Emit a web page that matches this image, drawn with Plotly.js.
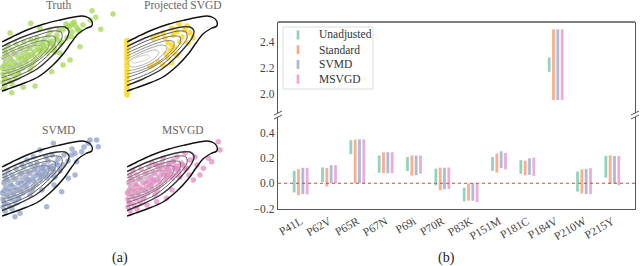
<!DOCTYPE html>
<html><head><meta charset="utf-8">
<script src="https://cdn.plot.ly/plotly-3.0.1.min.js"></script>
<style>html,body{margin:0;padding:0;background:#fff}#chart{width:640px;height:266px}</style>
</head><body><div id="chart"></div>
<script>
// ---------- (b) interval data ----------
const categories = ['P41L','P62V','P65R','P67N','P69i','P70R','P83K','P151M','P181C','P184V','P210W','P215Y'];
const seriesNames = ['Unadjusted','Standard','SVMD','MSVGD'];
const unadjLow  = [-0.072, 0.010, 0.230, 0.083, 0.097, -0.016, -0.142, 0.098, 0.075, 2.170, -0.065, 0.045];
const unadjHigh = [ 0.098, 0.125, 0.340, 0.220, 0.207,  0.115, -0.035, 0.207, 0.182, 2.280,  0.093, 0.216];
const stdLow    = [-0.094,-0.025, 0.000, 0.080, 0.060, -0.053, -0.137, 0.085, 0.063, 1.955, -0.080, -0.004];
const stdHigh   = [ 0.112, 0.120, 0.345, 0.244, 0.220,  0.124, -0.002, 0.234, 0.178, 2.495,  0.109, 0.220];
const svmdLow   = [-0.085, 0.000, 0.000, 0.079, 0.063, -0.047, -0.138, 0.120, 0.066, 1.955, -0.085, -0.004];
const svmdHigh  = [ 0.122, 0.143, 0.347, 0.245, 0.219,  0.123,  0.000, 0.252, 0.198, 2.495,  0.114, 0.215];
const msvgdLow  = [-0.088, 0.000, 0.000, 0.079, 0.076, -0.046, -0.148, 0.110, 0.058, 1.955, -0.085, -0.015];
const msvgdHigh = [ 0.122, 0.143, 0.347, 0.245, 0.219,  0.124,  0.000, 0.239, 0.202, 2.495,  0.119, 0.215];
const lowerTicks = [-0.2, 0.0, 0.2, 0.4];
const upperTicks = [2.0, 2.2, 2.4];

// ---------- (a) panel data (local panel units) ----------
const panelTitles = ['Truth','Projected SVGD','SVMD','MSVGD'];
const c1X = [0,10,25,42,58,72,80,86,89.7,89.7,84,76,69,62,50,36,20,6,0];
const c1Y = [68,73,80,86,90,93,94,92.5,89,84,81.5,76,67,57,44,33,26,21,19];
const c2X = [0,18,38,55,63,67,65,59,49,35,18,0];
const c2Y = [63.5,72,79,83,83,79,72,64,53,41,32,24.5];
const c3X = [0,18,36,51,59,60,53,42,28,13,0];
const c3Y = [60,68.5,75,79,78,72,62,51,40,33,28.5];
const c4X = [0,17,32,46,53,53,46,34,20,8,0];
const c4Y = [57,64.5,70.5,74,73,67,58,48,40,35,32.5];
const c5X = [0,15,29,41,47,46,39,28,16,5,0];
const c5Y = [54,61,66.5,69.5,68,62,54,46,40.5,37,36];
const c6X = [0,13,25,35,40,38,31,21,10,3,0];
const c6Y = [51,57.5,62.5,65,63,58,51,45,41,39.5,39.5];
const c7X = [2,11,21,29,32,29,21,12,5,1,2];
const c7Y = [49,54.5,58.5,60,57.5,53,47.5,44,43,46,49];
const c8X = [6,14,21,23,19,12,6,4,6];
const c8Y = [51,54,55,53,50,48,47,49,51];

const coreX = [1,1,2,2,3,3,4,5,5,6,7,8,8,9,10,11,12,12,13,14,15,16,17,18,19,20,21,22,23,24,25,26,27,28,29,30,31,32,33,34,35,36,38,39,40,42,43,45,46,48,50,52,54,3,10,
               0.5,4,6,9,11,14,16,18,20,22,24,26,28,30,32,34,37,40,41,44,47,49,51,53,56,58,2,6,13,19];
const coreY = [28,36,44,52,60,32,48,40,56,64,30,44,52,36,60,48,40,56,33,66,45,52,38,61,47,55,42,68,50,58,46,63,53,40,70,56,48,65,59,51,72,62,55,67,60,70,64,57,74,66,69,63,72,24,26,
               42,56,46,50,42,56,36,44,62,53,49,55,62,44,54,68,60,58,66,61,68,60,66,58,70,66,33,38,47,51];

const truthOutX = [28.7,90,93.7,98.7,111,88,81,78,73,68,78,68,61,49.7,33,21.3,9.7,1.3,8,58,69.7,61,48,38,55,60,65,52,57,70,75,64,66,72,76,70];
const truthOutY = [86.7,99.3,92.7,80.7,96,90,85,79.3,85,83.3,63.3,50,45,38.3,24,22.7,17.3,20.7,77,57,73.3,80,78.3,81.7,75,68,72,62,80,78,82,86,84,88,80,86];

const projLineX = [0,0,0,0,0,0,0,0,0,0,0,0,0,0,0,0,0,0,0,0];
const projLineY = [15,17.5,21,23,26.5,29,32,35.5,38,41,44,46.5,50,53,55.5,58,61.5,64,67,69.5];
const projClusterX = [26.3,36,44.7,49.7,58,63,66,61,53,41,43,46,41,44.7,36,31,26,23,46,48,50,39,45,55,38,30,60,52,94];
const projClusterY = [71.7,77,81.7,78.3,80,77,72,67,68.3,67,60,57,52,47,45,48.3,45,43.3,75,62,55,56,65,73,72,74,84,86,103];

const svmdOutX = [88,94.7,96.3,86.3,79.7,73,74.7,73,66.3,69.7,51.3,38,31.3,61.3,18,13,59.7,44.7,56,62,50,66,58,44,82,70,25,20,40,52];
const svmdOutY = [95,95,88.3,91.7,83.3,81.7,73.3,60,56.7,80,91.7,85,78.3,70,21.7,18.3,43.3,28.3,76,80,80,74,64,78,88,86,75,70,45,50];

const msvgdOutX = [91.3,93,81.3,84.7,73,66.3,58,63,46.3,59.7,39.7,29.7,36.3,76.3,50,55,42,30,25,62,20,45,70,68];
const msvgdOutY = [93.3,85,76.7,73.3,60,55,81.7,75,73.3,66.7,36.7,33.3,76.7,66.7,78,70,72,70,72,60,30,45,70,78];

// ---------- styling ----------
const W = 640, H = 266;
const px = v => v / W, py = v => 1 - v / H;
const serif = "'Liberation Serif', 'Times New Roman', serif";
const seriesColors = ['#66c2a5','#fc8d62','#8da0cb','#e78ac3'];
const spine = '#555';

const traces = [];
const intervals = [[unadjLow,unadjHigh],[stdLow,stdHigh],[svmdLow,svmdHigh],[msvgdLow,msvgdHigh]];
['y','y2'].forEach(ya => {
  intervals.forEach((iv, i) => {
    traces.push({
      type:'bar', x: categories, base: iv[0], y: iv[1].map((h,k) => h - iv[0][k]),
      xaxis:'x', yaxis: ya, name: seriesNames[i], showlegend:false, hoverinfo:'skip',
      marker:{color: seriesColors[i], opacity:0.72, line:{width:0}}
    });
  });
});

// (a) panels
const contoursX = [c1X,c2X,c3X,c4X,c5X,c6X,c7X,c8X];
const contoursY = [c1Y,c2Y,c3Y,c4Y,c5Y,c6Y,c7Y,c8Y];
const contourColors = ['#111','#333','#5e5e5e','#767676','#8c8c8c','#a2a2a2','#b8b8b8','#d0d0d0'];
const panelPoints = [
  [[coreX.concat(truthOutX), coreY.concat(truthOutY)]],
  [[projLineX, projLineY],[projClusterX, projClusterY]],
  [[coreX.concat(svmdOutX), coreY.concat(svmdOutY)]],
  [[coreX.concat(msvgdOutX), coreY.concat(msvgdOutY)]]
];
const pointColors = ['#a6d854','#ffd92f','#8da0cb','#e78ac3'];
const pointOpacity = [0.75, 0.92, 0.75, 0.75];
const boxes = [[2,8,114,110],[127,8,239,110],[2,133,114,235],[127,133,239,235]];
const layoutAxes = {};
const annotations = [];
boxes.forEach((b, p) => {
  const xa = 'x' + (p + 3), ya = 'y' + (p + 3);
  panelPoints[p].forEach(pp => {
    traces.push({type:'scatter', mode:'markers', x: pp[0], y: pp[1], xaxis: xa, yaxis: ya,
      showlegend:false, hoverinfo:'skip', cliponaxis:false,
      marker:{size:5.5, color: pointColors[p], opacity: pointOpacity[p], line:{width:0}}});
  });
  contoursX.forEach((cx, k) => {
    traces.push({type:'scatter', mode:'lines', x: cx, y: contoursY[k], xaxis: xa, yaxis: ya,
      showlegend:false, hoverinfo:'skip',
      line:{color: contourColors[k], width: k < 2 ? 1.4 : 1.0, shape:'spline', smoothing:0.9}});
  });
  layoutAxes['xaxis' + (p + 3)] = {domain:[px(b[0]), px(b[2])], range:[0,112], visible:false, anchor: ya};
  layoutAxes['yaxis' + (p + 3)] = {domain:[py(b[3]), py(b[1])], range:[0,102], visible:false, anchor: xa};
  annotations.push({text: panelTitles[p], xref:'paper', yref:'paper', x: px((b[0]+b[2])/2), y: py(b[1]-3),
    xanchor:'center', yanchor:'middle', showarrow:false, font:{family: serif, size:11.5, color:'#666'}});
});

// sub-figure labels
annotations.push({text:'(a)', xref:'paper', yref:'paper', x: px(120), y: py(258), showarrow:false,
  xanchor:'center', yanchor:'middle', font:{family: serif, size:14, color:'#222'}});
annotations.push({text:'(b)', xref:'paper', yref:'paper', x: px(446), y: py(258), showarrow:false,
  xanchor:'center', yanchor:'middle', font:{family: serif, size:14, color:'#222'}});

// manual legend
const shapes = [];
shapes.push({type:'rect', xref:'paper', yref:'paper', x0: px(283), x1: px(373), y0: py(89), y1: py(27),
  line:{color:'#ddd', width:1}, fillcolor:'rgba(255,255,255,0.85)', layer:'above'});
seriesNames.forEach((n, i) => {
  const yc = 35 + i * 14.7;
  shapes.push({type:'line', xref:'paper', yref:'paper', x0: px(298), x1: px(298), y0: py(yc+4.5), y1: py(yc-4.5),
    line:{color: seriesColors[i], width:2.7}, opacity:0.75, layer:'above'});
  annotations.push({text: n, xref:'paper', yref:'paper', x: px(317), y: py(yc), xanchor:'left', yanchor:'middle',
    showarrow:false, font:{family: serif, size:11.5, color:'#333'}});
});

// zero reference line
shapes.push({type:'line', xref:'x domain', yref:'y', x0:0, x1:1, y0:0, y1:0,
  line:{color:'#c0504d', width:1, dash:'dot'}});
// top spine of upper panel
shapes.push({type:'line', xref:'paper', yref:'paper', x0: px(278), x1: px(635), y0: py(22), y1: py(22),
  line:{color: spine, width:1.3}});
// break marks
[278, 635].forEach(xb => {
  [113, 117].forEach(yb => {
    shapes.push({type:'line', xref:'paper', yref:'paper', x0: px(xb-4), x1: px(xb+4), y0: py(yb+2), y1: py(yb-2),
      line:{color: spine, width:1}});
  });
});

const tickFont = {family: serif, size:11.5, color:'#444'};
const layout = Object.assign({
  width: W, height: H, autosize:false,
  margin:{l:0, r:0, t:0, b:0},
  paper_bgcolor:'#fff', plot_bgcolor:'rgba(0,0,0,0)',
  font:{family: serif},
  showlegend:false,
  barmode:'group', bargap:0.39, bargroupgap:0.35,
  xaxis:{type:'category', categoryarray: categories, range:[-0.8, 11.8], domain:[px(278), px(635)], anchor:'y',
    showline:true, linecolor: spine, linewidth:1.3, ticks:'', tickangle:-30, tickfont: tickFont,
    showgrid:false, zeroline:false},
  yaxis:{domain:[py(209), py(117)], range:[-0.203, 0.523], anchor:'x', tickvals: lowerTicks, tickformat:'.1f',
    showline:true, mirror:true, linecolor: spine, linewidth:1.3, ticks:'', tickfont: tickFont,
    showgrid:false, zeroline:false},
  yaxis2:{domain:[py(113), py(22)], range:[1.855, 2.551], anchor:'x', tickvals: upperTicks, tickformat:'.1f',
    showline:true, mirror:true, linecolor: spine, linewidth:1.3, ticks:'', tickfont: tickFont,
    showgrid:false, zeroline:false},
  annotations: annotations,
  shapes: shapes
}, layoutAxes);

Plotly.newPlot('chart', traces, layout, {staticPlot:true, displayModeBar:false});
</script></body></html>
